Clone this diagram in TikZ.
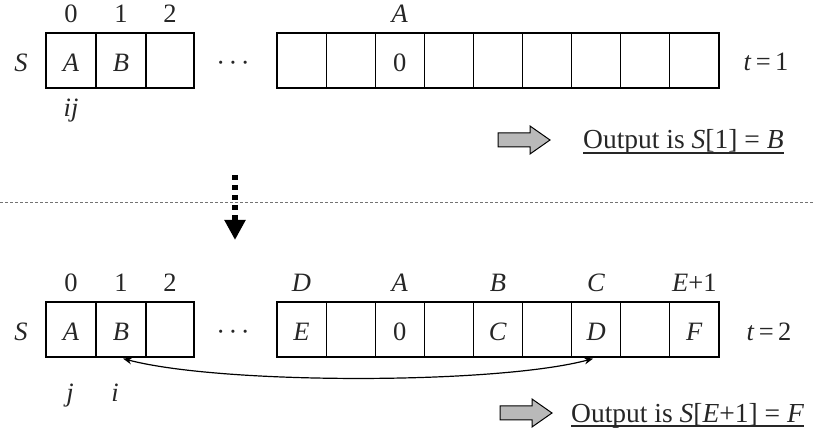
\documentclass[tikz,border=0pt]{standalone}
\usepackage{fontspec}
\setmainfont{Liberation Serif}
\usetikzlibrary{arrows.meta,calc}
\begin{document}
\begin{tikzpicture}[x=1pt,y=-1pt,
  cell/.style={draw, line width=1.2pt, minimum height=55pt, inner sep=0pt},
  txt/.style={inner sep=0pt, anchor=base, font=\fontsize{26.5}{30}\selectfont, text=black!85},
  txtw/.style={inner sep=0pt, anchor=base west, font=\fontsize{27.5}{30}\selectfont, text=black!85},
  pics/blockarrow/.style={code={\draw[fill=gray!55, line width=1pt, line join=miter]
     (0,-7) -- (32,-7) -- (32,-14) -- (52,0) -- (32,14) -- (32,7) -- (0,7) -- cycle;}}]
\useasboundingbox (0,0) rectangle (814,435);

% ---------------- top state (t=1) ----------------
\foreach \k/\cx/\w in {1/71/50,2/121/50,3/170/48}
  \node[cell, minimum width=\w pt] (l\k) at (\cx,60.5) {};
\foreach \k in {1,...,9}
  \node[cell, minimum width=49.1pt] (r\k) at ({277+49.1*(\k-0.5)},60.5) {};

\node[txt] (i0) at (71,23) {0};
\node[txt] (i1) at (121,23) {1};
\node[txt] (i2) at (170,23) {2};
\node[txt] (iA) at ($(r3)+(0,-37.5)$) {\textit{A}};
\node[txt] (S1) at (21,72) {\textit{S}};
\node[txt] (cA) at ($(l1)+(0,11.5)$) {\textit{A}};
\node[txt] (cB) at ($(l2)+(0,11.5)$) {\textit{B}};
\node[txt] (c0) at ($(r3)+(0,11.5)$) {0};
\node[txt] (dots1) at (233,72) {·\hspace{3.5pt}·\hspace{3.5pt}·};
\node[txt] (ij) at (71,117) {\textit{ij}};
\node[txt] (t1) at (766,71) {\textit{t}\,=\,1};

\pic at (498,140) {blockarrow};
\node[txtw] (o1) at (583,149) {Output is \textit{S}[1] = \textit{B}};
\draw[line width=1.2pt, black!85] ($(o1.base west)+(0,4)$) -- ($(o1.base east)+(0,4)$);

% ---------------- separator and transition ----------------
\coordinate (h1) at (0,203);
\coordinate (h2) at (814,203);
\draw[gray!90!black, line width=1pt, dash pattern=on 3pt off 2pt] (h1) -- (h2);
\coordinate (d1) at (235,175);
\coordinate (d2) at (235,240);
\draw[line width=5.5pt, dash pattern=on 5.5pt off 4.5pt,
      -{Triangle[length=20pt,width=20pt]}] (d1) -- (d2);

% ---------------- bottom state (t=2) ----------------
\foreach \k/\cx/\w in {1/71/50,2/121/50,3/170/48}
  \node[cell, minimum width=\w pt] (bl\k) at (\cx,329.5) {};
\foreach \k in {1,...,9}
  \node[cell, minimum width=49.1pt] (br\k) at ({277+49.1*(\k-0.5)},329.5) {};

\node[txt] (j0) at (71,292) {0};
\node[txt] (j1) at (121,292) {1};
\node[txt] (j2) at (170,292) {2};
\node[txt] (jD) at ($(br1)+(0,-37.5)$) {\textit{D}};
\node[txt] (jA) at ($(br3)+(0,-37.5)$) {\textit{A}};
\node[txt] (jB) at ($(br5)+(0,-37.5)$) {\textit{B}};
\node[txt] (jC) at ($(br7)+(0,-37.5)$) {\textit{C}};
\node[txt] (jE) at ($(br9)+(0,-37.5)$) {\textit{E}+1};
\node[txt] (S2) at (21,341) {\textit{S}};
\node[txt] (dA) at ($(bl1)+(0,11.5)$) {\textit{A}};
\node[txt] (dB) at ($(bl2)+(0,11.5)$) {\textit{B}};
\node[txt] (dE) at ($(br1)+(0,11.5)$) {\textit{E}};
\node[txt] (d0) at ($(br3)+(0,11.5)$) {0};
\node[txt] (dC) at ($(br5)+(0,11.5)$) {\textit{C}};
\node[txt] (dD) at ($(br7)+(0,11.5)$) {\textit{D}};
\node[txt] (dF) at ($(br9)+(0,11.5)$) {\textit{F}};
\node[txt] (dots2) at (233,341) {·\hspace{3.5pt}·\hspace{3.5pt}·};
\node[txt] (jj) at (70,402) {\textit{j}};
\node[txt] (ii) at (115,402) {\textit{i}};
\node[txt] (t2) at (769,341) {\textit{t}\,=\,2};

\draw[line width=1.2pt, {Stealth[length=9pt,width=7pt]}-{Stealth[length=9pt,width=7pt]}]
  ($(bl2.south)+(2,1)$) .. controls ($(bl2.south)+(100,27)$) and ($(br7.south)+(-100,27)$) .. ($(br7.south)+(-3,1)$);

\pic at (500,413) {blockarrow};
\node[txtw] (o2) at (571,422) {Output is \textit{S}[\textit{E}+1] = \textit{F}};
\draw[line width=1.2pt, black!85] ($(o2.base west)+(0,4)$) -- ($(o2.base east)+(0,4)$);
\end{tikzpicture}
\end{document}
